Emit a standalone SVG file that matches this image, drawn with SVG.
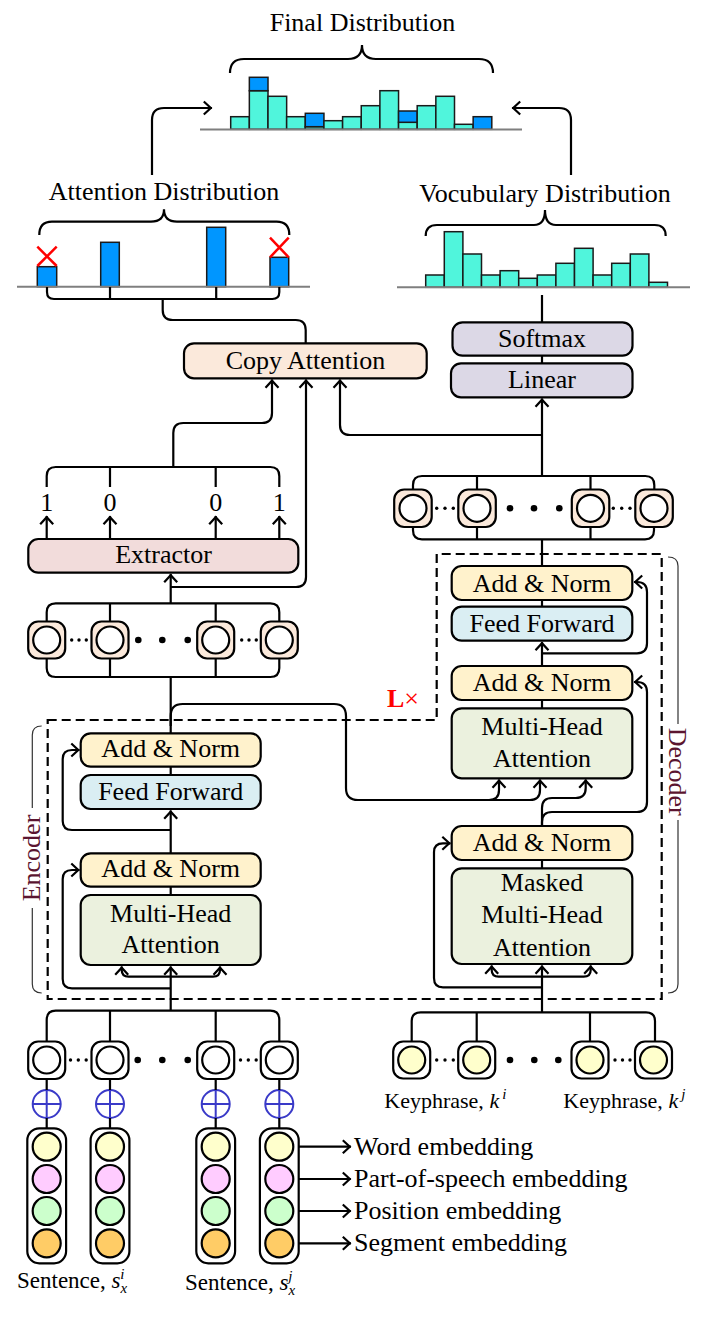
<svg xmlns="http://www.w3.org/2000/svg" width="706" height="1326" viewBox="0 0 706 1326">
<style>
.ln{fill:none;stroke:#000;stroke-width:2.2}
.thin{fill:none;stroke:#333;stroke-width:1.2}
.bx{stroke:#000;stroke-width:2.2}
.t{font-family:"Liberation Serif","Times New Roman",serif;font-size:26px;text-anchor:middle;fill:#000}
.tl{font-family:"Liberation Serif","Times New Roman",serif;font-size:26px;fill:#000}
.cy{fill:#50F5DC;stroke:#1a1a1a;stroke-width:1.5}
.bl{fill:#0096FF;stroke:#1a1a1a;stroke-width:1.5}
.base{stroke:#7f7f7f;stroke-width:2}
.rx{stroke:#FF0000;stroke-width:2.5}
.an{fill:#FFF2CC}
.ff{fill:#DAEEF3}
.mh{fill:#EBF1DE}
.lv{fill:#DCD8E6}
.pc{fill:#FBE9DB}
.ex{fill:#F2DCDB}
.tok{fill:#FBE9DB;stroke:#000;stroke-width:2.2}
.tokw{fill:#fff;stroke:#000;stroke-width:2.2}
.in{fill:#fff;stroke:#000;stroke-width:2.2}
.iny{fill:#FFFFCC;stroke:#000;stroke-width:2.2}
.oplus{fill:none;stroke:#3A3AC8;stroke-width:2}
.dot{fill:#000}
</style>
<defs>
<marker id="a" markerUnits="userSpaceOnUse" markerWidth="18" markerHeight="18" viewBox="-9 -9 18 18" refX="1.2" refY="0" orient="auto">
<path d="M-7,-6.5 L0,0 L-7,6.5" fill="none" stroke="#000" stroke-width="2.2"/>
</marker>
</defs>

<!-- Final distribution -->
<g id="final-distribution">
<text class="t" x="362.5" y="31">Final Distribution</text>
<path class="ln" d="M230,73 Q230,59 244,59 L348,59 Q362,59 362,45 Q362,59 376,59 L479,59 Q493,59 493,73" stroke-width="2"/>
<rect class="cy" x="230.7" y="116.7" width="18.65" height="12.6"/>
<rect class="cy" x="249.35" y="90.7" width="18.65" height="38.6"/>
<rect class="bl" x="249.35" y="77.3" width="18.65" height="13.4"/>
<rect class="cy" x="268" y="96.3" width="18.65" height="33"/>
<rect class="cy" x="286.65" y="116.7" width="18.65" height="12.6"/>
<rect class="cy" x="305.3" y="126.7" width="18.65" height="2.6"/>
<rect class="bl" x="305.3" y="113.3" width="18.65" height="13.4"/>
<rect class="cy" x="323.95" y="120.7" width="18.65" height="8.6"/>
<rect class="cy" x="342.6" y="116.7" width="18.65" height="12.6"/>
<rect class="cy" x="361.25" y="105.7" width="18.65" height="23.6"/>
<rect class="cy" x="379.9" y="90.7" width="18.65" height="38.6"/>
<rect class="cy" x="398.55" y="122.3" width="18.65" height="7"/>
<rect class="bl" x="398.55" y="111" width="18.65" height="11.3"/>
<rect class="cy" x="417.2" y="105.7" width="18.65" height="23.6"/>
<rect class="cy" x="435.85" y="96.3" width="18.65" height="33"/>
<rect class="cy" x="454.5" y="124.3" width="18.65" height="5"/>
<rect class="bl" x="473.15" y="116.7" width="18.65" height="12.6"/>
<line class="base" x1="200" y1="129.5" x2="522" y2="129.5"/>
</g>

<!-- Attention distribution -->
<g id="attention-distribution">
<text class="t" x="164" y="200">Attention Distribution</text>
<path class="ln" d="M39.3,235 Q39.3,221.7 52,221.7 L151,221.7 Q164,221.7 164,209.3 Q164,221.7 177,221.7 L276.6,221.7 Q289.3,221.7 289.3,235" stroke-width="2"/>
<rect class="bl" x="37.3" y="266.7" width="19.4" height="20"/>
<rect class="bl" x="100.7" y="242.3" width="18.6" height="44.4"/>
<rect class="bl" x="206.7" y="227.3" width="19" height="59.4"/>
<rect class="bl" x="270" y="257.3" width="18.7" height="29.4"/>
<line class="base" x1="17" y1="286.7" x2="310" y2="286.7"/>
<line class="rx" x1="37.3" y1="246.7" x2="56.7" y2="266"/>
<line class="rx" x1="56.7" y1="246.7" x2="37.3" y2="266"/>
<line class="rx" x1="270" y1="237.7" x2="288.7" y2="257.3"/>
<line class="rx" x1="288.7" y1="237.7" x2="270" y2="257.3"/>
</g>

<!-- Vocabulary distribution -->
<g id="vocabulary-distribution">
<text class="t" x="545" y="201.7">Vocubulary Distribution</text>
<path class="ln" d="M425.7,236 Q425.7,225 437,225 L534,225 Q545,225 545,210 Q545,225 556,225 L654.7,225 Q665.7,225 665.7,236" stroke-width="2"/>
<rect class="cy" x="425.7" y="275" width="18.6" height="12.3"/>
<rect class="cy" x="444.3" y="231.7" width="18.6" height="55.6"/>
<rect class="cy" x="462.9" y="254" width="18.6" height="33.3"/>
<rect class="cy" x="481.5" y="275" width="18.6" height="12.3"/>
<rect class="cy" x="500.1" y="270.7" width="18.6" height="16.6"/>
<rect class="cy" x="518.7" y="278.3" width="18.6" height="9"/>
<rect class="cy" x="537.3" y="275" width="18.6" height="12.3"/>
<rect class="cy" x="555.9" y="263.3" width="18.6" height="24"/>
<rect class="cy" x="574.5" y="248.3" width="18.6" height="39"/>
<rect class="cy" x="593.1" y="275" width="18.6" height="12.3"/>
<rect class="cy" x="611.7" y="263.3" width="18.6" height="24"/>
<rect class="cy" x="630.3" y="254" width="18.6" height="33.3"/>
<rect class="cy" x="648.9" y="282.3" width="18.6" height="5"/>
<line class="base" x1="397" y1="287.3" x2="690" y2="287.3"/>
</g>

<!-- Boxes -->
<g id="copy-attention"><rect class="bx pc" x="184" y="343.3" width="242.7" height="35" rx="10"/><text class="t" x="305.5" y="369">Copy Attention</text></g>
<g id="softmax"><rect class="bx lv" x="452.5" y="322.3" width="180" height="33.4" rx="10"/><text class="t" x="542" y="347">Softmax</text></g>
<g id="linear"><rect class="bx lv" x="451" y="363.3" width="181.5" height="34" rx="10"/><text class="t" x="542" y="388">Linear</text></g>
<g id="extractor"><rect class="bx ex" x="28.3" y="539" width="270" height="33.7" rx="10"/><text class="t" x="163.5" y="563">Extractor</text></g>
<g id="labels-01">
<text class="t" x="46.7" y="511">1</text>
<text class="t" x="110" y="511">0</text>
<text class="t" x="215.7" y="511">0</text>
<text class="t" x="279.3" y="511">1</text>
</g>

<!-- Encoder output tokens -->
<g id="enc-out-tok1"><rect class="tok" x="28.2" y="621.5" width="37" height="37" rx="10"/><circle class="in" cx="46.7" cy="640" r="13.5"/></g>
<g id="enc-out-tok2"><rect class="tok" x="91.5" y="621.5" width="37" height="37" rx="10"/><circle class="in" cx="110" cy="640" r="13.5"/></g>
<g id="enc-out-tok3"><rect class="tok" x="197.2" y="621.5" width="37" height="37" rx="10"/><circle class="in" cx="215.7" cy="640" r="13.5"/></g>
<g id="enc-out-tok4"><rect class="tok" x="260.8" y="621.5" width="37" height="37" rx="10"/><circle class="in" cx="279.3" cy="640" r="13.5"/></g>
<g id="enc-out-dots">
<circle class="dot" cx="71.7" cy="640" r="1.7"/><circle class="dot" cx="79" cy="640" r="1.7"/><circle class="dot" cx="86.3" cy="640" r="1.7"/>
<circle class="dot" cx="138.3" cy="640" r="3.3"/><circle class="dot" cx="162.3" cy="640" r="3.3"/><circle class="dot" cx="187.7" cy="640" r="3.3"/>
<circle class="dot" cx="241.7" cy="640" r="1.7"/><circle class="dot" cx="249" cy="640" r="1.7"/><circle class="dot" cx="256.3" cy="640" r="1.7"/>
</g>

<!-- Decoder output tokens -->
<g id="dec-out-tok1"><rect class="tok" x="394.2" y="489.5" width="37.5" height="37.5" rx="10"/><circle class="in" cx="413" cy="508.3" r="13.5"/></g>
<g id="dec-out-tok2"><rect class="tok" x="458.3" y="489.5" width="37.5" height="37.5" rx="10"/><circle class="in" cx="477" cy="508.3" r="13.5"/></g>
<g id="dec-out-tok3"><rect class="tok" x="571.8" y="489.5" width="37.5" height="37.5" rx="10"/><circle class="in" cx="590.5" cy="508.3" r="13.5"/></g>
<g id="dec-out-tok4"><rect class="tok" x="635.3" y="489.5" width="37.5" height="37.5" rx="10"/><circle class="in" cx="654" cy="508.3" r="13.5"/></g>
<g id="dec-out-dots">
<circle class="dot" cx="436.7" cy="508.3" r="1.7"/><circle class="dot" cx="445" cy="508.3" r="1.7"/><circle class="dot" cx="453.3" cy="508.3" r="1.7"/>
<circle class="dot" cx="510" cy="508.3" r="3.3"/><circle class="dot" cx="534" cy="508.3" r="3.3"/><circle class="dot" cx="559.3" cy="508.3" r="3.3"/>
<circle class="dot" cx="613.3" cy="508.3" r="1.7"/><circle class="dot" cx="621.7" cy="508.3" r="1.7"/><circle class="dot" cx="630" cy="508.3" r="1.7"/>
</g>

<!-- Decoder blocks -->
<g id="dec-addnorm3"><rect class="bx an" x="451.7" y="566" width="180.6" height="34" rx="10"/><text class="t" x="542" y="591.5">Add &amp; Norm</text></g>
<g id="dec-feedforward"><rect class="bx ff" x="451.7" y="606.7" width="180.6" height="34" rx="10"/><text class="t" x="542" y="632">Feed Forward</text></g>
<g id="dec-addnorm2"><rect class="bx an" x="451.7" y="666" width="180.6" height="34" rx="10"/><text class="t" x="542" y="691">Add &amp; Norm</text></g>
<g id="dec-mha"><rect class="bx mh" x="451.7" y="708.3" width="180.6" height="70" rx="10"/><text class="t" x="542" y="735">Multi-Head</text><text class="t" x="542" y="766.7">Attention</text></g>
<g id="dec-addnorm1"><rect class="bx an" x="451.7" y="826" width="180.6" height="34" rx="10"/><text class="t" x="542" y="850.5">Add &amp; Norm</text></g>
<g id="dec-masked-mha"><rect class="bx mh" x="451.7" y="868.3" width="180.6" height="95.7" rx="10"/><text class="t" x="542" y="890.7">Masked</text><text class="t" x="542" y="923.3">Multi-Head</text><text class="t" x="542" y="955.7">Attention</text></g>

<!-- Encoder blocks -->
<g id="enc-addnorm2"><rect class="bx an" x="80.7" y="733.3" width="180" height="33.4" rx="10"/><text class="t" x="170.7" y="757">Add &amp; Norm</text></g>
<g id="enc-feedforward"><rect class="bx ff" x="80.7" y="775" width="180" height="34" rx="10"/><text class="t" x="170.7" y="799.5">Feed Forward</text></g>
<g id="enc-addnorm1"><rect class="bx an" x="80.7" y="853.3" width="180" height="33.4" rx="10"/><text class="t" x="170.7" y="877">Add &amp; Norm</text></g>
<g id="enc-mha"><rect class="bx mh" x="80.7" y="895" width="180" height="70" rx="10"/><text class="t" x="170.7" y="921.7">Multi-Head</text><text class="t" x="170.7" y="953.3">Attention</text></g>

<!-- Dashed layer box, labels -->
<g id="layer-box">
<path d="M47.7,720 L436.7,720 L436.7,554 L661.7,554 L661.7,999 L47.7,999 Z" fill="none" stroke="#000" stroke-width="2.2" stroke-dasharray="9 5"/>
<text x="403" y="706.5" font-family="'Liberation Serif','Times New Roman',serif" font-size="26" fill="#FF0000" text-anchor="middle"><tspan font-weight="bold">L</tspan>×</text>
</g>
<g id="encoder-label">
<path class="thin" d="M41.7,726 Q32.3,726 32.3,735 L32.3,808 M32.3,908 L32.3,984 Q32.3,993 41.7,993"/>
<text class="t" transform="translate(31,858) rotate(-90)" dy="8.6" fill="#5B1530" style="fill:#5B1530">Encoder</text>
</g>
<g id="decoder-label">
<path class="thin" d="M668,557 Q678,557 678,566 L678,724 M678,820 L678,984 Q678,993 668,993"/>
<text class="t" transform="translate(678,771.7) rotate(90)" dy="8.6" style="fill:#5B1530">Decoder</text>
</g>

<!-- Encoder input tokens -->
<g id="enc-in-tok1"><rect class="tokw" x="28.2" y="1041.5" width="37" height="37.5" rx="10"/><circle class="in" cx="46.7" cy="1060" r="13.5"/></g>
<g id="enc-in-tok2"><rect class="tokw" x="91.5" y="1041.5" width="37" height="37.5" rx="10"/><circle class="in" cx="110" cy="1060" r="13.5"/></g>
<g id="enc-in-tok3"><rect class="tokw" x="197.2" y="1041.5" width="37" height="37.5" rx="10"/><circle class="in" cx="215.7" cy="1060" r="13.5"/></g>
<g id="enc-in-tok4"><rect class="tokw" x="260.8" y="1041.5" width="37" height="37.5" rx="10"/><circle class="in" cx="279.3" cy="1060" r="13.5"/></g>
<g id="enc-in-dots">
<circle class="dot" cx="70.5" cy="1060" r="1.7"/><circle class="dot" cx="78.3" cy="1060" r="1.7"/><circle class="dot" cx="86.2" cy="1060" r="1.7"/>
<circle class="dot" cx="137.7" cy="1060" r="3.3"/><circle class="dot" cx="162.3" cy="1060" r="3.3"/><circle class="dot" cx="187.7" cy="1060" r="3.3"/>
<circle class="dot" cx="240.5" cy="1060" r="1.7"/><circle class="dot" cx="248.3" cy="1060" r="1.7"/><circle class="dot" cx="256.2" cy="1060" r="1.7"/>
</g>

<!-- plus signs -->
<g id="oplus1"><circle class="oplus" cx="46.7" cy="1104" r="14"/><path class="oplus" d="M32.7,1104 H60.7 M46.7,1090 V1118"/></g>
<g id="oplus2"><circle class="oplus" cx="110" cy="1104" r="14"/><path class="oplus" d="M96,1104 H124 M110,1090 V1118"/></g>
<g id="oplus3"><circle class="oplus" cx="215.7" cy="1104" r="14"/><path class="oplus" d="M201.7,1104 H229.7 M215.7,1090 V1118"/></g>
<g id="oplus4"><circle class="oplus" cx="279.3" cy="1104" r="14"/><path class="oplus" d="M265.3,1104 H293.3 M279.3,1090 V1118"/></g>

<!-- Embedding stacks -->
<g id="emb-stack1"><rect class="tokw" x="27.3" y="1128.3" width="38.8" height="135" rx="12"/>
<circle cx="46.7" cy="1146.7" r="14" fill="#FFFFCC" stroke="#000" stroke-width="2.2"/><circle cx="46.7" cy="1179" r="14" fill="#FFCCFF" stroke="#000" stroke-width="2.2"/><circle cx="46.7" cy="1211" r="14" fill="#CCFFCC" stroke="#000" stroke-width="2.2"/><circle cx="46.7" cy="1243.3" r="14" fill="#FFCC66" stroke="#000" stroke-width="2.2"/></g>
<g id="emb-stack2"><rect class="tokw" x="90.6" y="1128.3" width="38.8" height="135" rx="12"/>
<circle cx="110" cy="1146.7" r="14" fill="#FFFFCC" stroke="#000" stroke-width="2.2"/><circle cx="110" cy="1179" r="14" fill="#FFCCFF" stroke="#000" stroke-width="2.2"/><circle cx="110" cy="1211" r="14" fill="#CCFFCC" stroke="#000" stroke-width="2.2"/><circle cx="110" cy="1243.3" r="14" fill="#FFCC66" stroke="#000" stroke-width="2.2"/></g>
<g id="emb-stack3"><rect class="tokw" x="196.3" y="1128.3" width="38.8" height="135" rx="12"/>
<circle cx="215.7" cy="1146.7" r="14" fill="#FFFFCC" stroke="#000" stroke-width="2.2"/><circle cx="215.7" cy="1179" r="14" fill="#FFCCFF" stroke="#000" stroke-width="2.2"/><circle cx="215.7" cy="1211" r="14" fill="#CCFFCC" stroke="#000" stroke-width="2.2"/><circle cx="215.7" cy="1243.3" r="14" fill="#FFCC66" stroke="#000" stroke-width="2.2"/></g>
<g id="emb-stack4"><rect class="tokw" x="259.9" y="1128.3" width="38.8" height="135" rx="12"/>
<circle cx="279.3" cy="1146.7" r="14" fill="#FFFFCC" stroke="#000" stroke-width="2.2"/><circle cx="279.3" cy="1179" r="14" fill="#FFCCFF" stroke="#000" stroke-width="2.2"/><circle cx="279.3" cy="1211" r="14" fill="#CCFFCC" stroke="#000" stroke-width="2.2"/><circle cx="279.3" cy="1243.3" r="14" fill="#FFCC66" stroke="#000" stroke-width="2.2"/></g>

<g id="sentence-labels">
<text class="tl" x="17" y="1288" font-size="23" style="font-size:23px">Sentence, <tspan font-style="italic">s</tspan><tspan font-style="italic" style="font-size:15px" dy="5">x</tspan><tspan font-style="italic" style="font-size:15px" dx="-7" dy="-14">i</tspan></text>
<text class="tl" x="185" y="1290" style="font-size:23px">Sentence, <tspan font-style="italic">s</tspan><tspan font-style="italic" style="font-size:15px" dy="5">x</tspan><tspan font-style="italic" style="font-size:15px" dx="-7" dy="-14">j</tspan></text>
</g>

<g id="embedding-labels">
<text class="tl" x="354" y="1155">Word embedding</text>
<text class="tl" x="354" y="1187">Part-of-speech embedding</text>
<text class="tl" x="354" y="1219">Position embedding</text>
<text class="tl" x="354" y="1251">Segment embedding</text>
</g>

<!-- Keyphrase tokens -->
<g id="key-tok1"><rect class="tokw" x="393.2" y="1041.5" width="37" height="37" rx="10"/><circle class="iny" cx="411.7" cy="1060" r="13.5"/></g>
<g id="key-tok2"><rect class="tokw" x="458.2" y="1041.5" width="37" height="37" rx="10"/><circle class="iny" cx="476.7" cy="1060" r="13.5"/></g>
<g id="key-tok3"><rect class="tokw" x="571.5" y="1041.5" width="37" height="37" rx="10"/><circle class="iny" cx="590" cy="1060" r="13.5"/></g>
<g id="key-tok4"><rect class="tokw" x="635" y="1041.5" width="37" height="37" rx="10"/><circle class="iny" cx="653.5" cy="1060" r="13.5"/></g>
<g id="key-dots">
<circle class="dot" cx="436.7" cy="1060" r="1.7"/><circle class="dot" cx="445" cy="1060" r="1.7"/><circle class="dot" cx="453.3" cy="1060" r="1.7"/>
<circle class="dot" cx="510" cy="1060" r="3.3"/><circle class="dot" cx="534.3" cy="1060" r="3.3"/><circle class="dot" cx="558.3" cy="1060" r="3.3"/>
<circle class="dot" cx="615" cy="1060" r="1.7"/><circle class="dot" cx="622.5" cy="1060" r="1.7"/><circle class="dot" cx="630" cy="1060" r="1.7"/>
</g>
<g id="keyphrase-labels">
<text class="tl" x="384.3" y="1108.3" style="font-size:22px">Keyphrase, <tspan font-style="italic">k</tspan><tspan font-style="italic" style="font-size:15px" dx="3" dy="-9">i</tspan></text>
<text class="tl" x="563.3" y="1108.3" style="font-size:22px">Keyphrase, <tspan font-style="italic">k</tspan><tspan font-style="italic" style="font-size:15px" dx="3" dy="-9">j</tspan></text>
</g>

<!-- Connectors -->
<g id="connectors">
<!-- to final distribution -->
<path class="ln" d="M152,175 L152,120 Q152,108 164,108 L212,108" marker-end="url(#a)"/>
<path class="ln" d="M571,175 L571,120 Q571,108 559,108 L512,108" marker-end="url(#a)"/>
<!-- attention bars bracket -->
<path class="ln" d="M47,287 L47,292 Q47,299 54,299 L272.3,299 Q279.3,299 279.3,292 L279.3,287 M110,287 L110,299 M216.2,287 L216.2,299"/>
<path class="ln" d="M162.7,299 L162.7,310 Q162.7,320 172.7,320 L295.7,320 Q305.7,320 305.7,330 L305.7,343"/>
<!-- vocab / softmax / linear -->
<path class="ln" d="M542,295 L542,322.3 M542,355.7 L542,363.3"/>
<path class="ln" d="M542,476 L542,398.5" marker-end="url(#a)"/>
<path class="ln" d="M542,435 L350,435 Q340,435 340,425 L340,379.5" marker-end="url(#a)"/>
<!-- extractor outputs -->
<path class="ln" d="M46.7,539 L46.7,516" marker-end="url(#a)"/>
<path class="ln" d="M110,539 L110,516" marker-end="url(#a)"/>
<path class="ln" d="M215.7,539 L215.7,516" marker-end="url(#a)"/>
<path class="ln" d="M279.3,539 L279.3,516" marker-end="url(#a)"/>
<path class="ln" d="M46.7,487 L46.7,476 Q46.7,467 55.7,467 L270.3,467 Q279.3,467 279.3,476 L279.3,487 M110,467 L110,487 M215.7,467 L215.7,487"/>
<path class="ln" d="M173.3,467 L173.3,433 Q173.3,423 183.3,423 L262,423 Q272,423 272,413 L272,379.5" marker-end="url(#a)"/>
<!-- encoder output tokens -->
<path class="ln" d="M170.7,603.3 L170.7,574" marker-end="url(#a)"/>
<path class="ln" d="M170.7,587 L296,587 Q306,587 306,577 L306,379.5" marker-end="url(#a)"/>
<path class="ln" d="M46.7,621.5 L46.7,612.3 Q46.7,603.3 55.7,603.3 L270.3,603.3 Q279.3,603.3 279.3,612.3 L279.3,621.5 M110,603.3 L110,621.5 M215.7,603.3 L215.7,621.5"/>
<path class="ln" d="M46.7,658.5 L46.7,668 Q46.7,677 55.7,677 L270.3,677 Q279.3,677 279.3,668 L279.3,658.5 M110,658.5 L110,677 M215.7,658.5 L215.7,677"/>
<path class="ln" d="M170.7,677 L170.7,733.3"/>
<!-- decoder output tokens -->
<path class="ln" d="M413,489.5 L413,485 Q413,476 422,476 L645.3,476 Q654.3,476 654.3,485 L654.3,489.5 M477,476 L477,489.5 M590.5,476 L590.5,489.5"/>
<path class="ln" d="M413,527 L413,530.3 Q413,539.3 422,539.3 L645,539.3 Q654,539.3 654,530.3 L654,527 M477,527 L477,539.3 M590.5,527 L590.5,539.3"/>
<path class="ln" d="M542,539.3 L542,566"/>
<!-- decoder internals -->
<path class="ln" d="M542,600 L542,606.7"/>
<path class="ln" d="M542,666 L542,642" marker-end="url(#a)"/>
<path class="ln" d="M542,653.3 L637,653.3 Q647,653.3 647,643.3 L647,592 Q647,582 637,582 L634,582" marker-end="url(#a)"/>
<path class="ln" d="M542,700 L542,708.3"/>
<path class="ln" d="M542,860 L542,868.3"/>
<path class="ln" d="M542,826 L542,822 Q542,812 552,812 L637,812 Q647,812 647,802 L647,692 Q647,682 637,682 L634,682" marker-end="url(#a)"/>
<path class="ln" d="M542,826 L542,808 Q542,798 552,798 L575.7,798 Q585.7,798 585.7,788 L585.7,779.5" marker-end="url(#a)"/>
<!-- encoder to decoder -->
<path class="ln" d="M170.7,726 L170.7,716 Q170.7,704 182.7,704 L334,704 Q346,704 346,716 L346,788 Q346,800 358,800 L489,800 Q499,800 499,790 L499,779.5" marker-end="url(#a)"/>
<path class="ln" d="M489,800 L530,800 Q540,800 540,790 L540,779.5" marker-end="url(#a)"/>
<!-- decoder input -->
<path class="ln" d="M542,1012.3 L542,965.5" marker-end="url(#a)"/>
<path class="ln" d="M542,976.7 L498.7,976.7 Q491.7,976.7 491.7,970 L491.7,965.5" marker-end="url(#a)"/>
<path class="ln" d="M542,976.7 L583.7,976.7 Q590.7,976.7 590.7,970 L590.7,965.5" marker-end="url(#a)"/>
<path class="ln" d="M542,987.3 L443,987.3 Q434,987.3 434,978 L434,852 Q434,843.3 443,843.3 L450.5,843.3" marker-end="url(#a)"/>
<path class="ln" d="M411.7,1041.5 L411.7,1021 Q411.7,1012.3 420.7,1012.3 L646,1012.3 Q655,1012.3 655,1021 L655,1041.5 M476.7,1012.3 L476.7,1041.5 M590,1012.3 L590,1041.5"/>
<!-- encoder internals -->
<path class="ln" d="M170.7,766.7 L170.7,775"/>
<path class="ln" d="M170.7,853.3 L170.7,810.5" marker-end="url(#a)"/>
<path class="ln" d="M170.7,830 L72,830 Q62.7,830 62.7,821 L62.7,759 Q62.7,750 72,750 L79.5,750" marker-end="url(#a)"/>
<path class="ln" d="M170.7,886.7 L170.7,895"/>
<path class="ln" d="M170.7,1010.7 L170.7,966.5" marker-end="url(#a)"/>
<path class="ln" d="M170.7,976.7 L128.7,976.7 Q121.7,976.7 121.7,970 L121.7,966.5" marker-end="url(#a)"/>
<path class="ln" d="M170.7,976.7 L213,976.7 Q220,976.7 220,970 L220,966.5" marker-end="url(#a)"/>
<path class="ln" d="M170.7,988.3 L72,988.3 Q62.7,988.3 62.7,979 L62.7,879 Q62.7,870 72,870 L79.5,870" marker-end="url(#a)"/>
<!-- encoder input tokens -->
<path class="ln" d="M46.7,1041.5 L46.7,1020 Q46.7,1010.7 55.7,1010.7 L270.3,1010.7 Q279.3,1010.7 279.3,1020 L279.3,1041.5 M110,1010.7 L110,1041.5 M215.7,1010.7 L215.7,1041.5"/>
<path class="ln" d="M46.7,1079 L46.7,1090 M46.7,1118 L46.7,1128.3 M110,1079 L110,1090 M110,1118 L110,1128.3 M215.7,1079 L215.7,1090 M215.7,1118 L215.7,1128.3 M279.3,1079 L279.3,1090 M279.3,1118 L279.3,1128.3"/>
<!-- embedding labels -->
<path class="ln" d="M298.7,1146.7 L351,1146.7" marker-end="url(#a)"/>
<path class="ln" d="M298.7,1179 L351,1179" marker-end="url(#a)"/>
<path class="ln" d="M298.7,1211 L351,1211" marker-end="url(#a)"/>
<path class="ln" d="M298.7,1243.3 L351,1243.3" marker-end="url(#a)"/>
</g>
</svg>
